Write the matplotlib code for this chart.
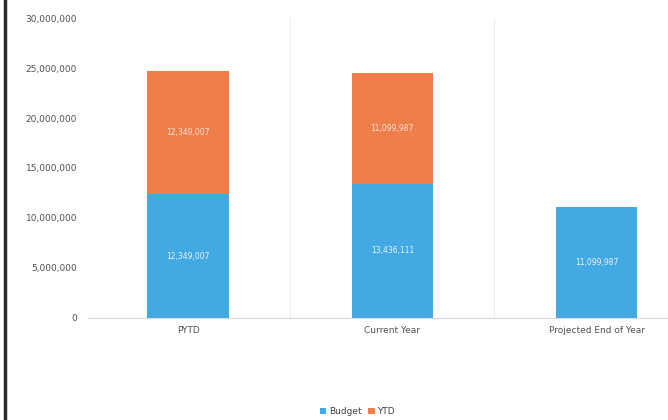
import numpy as np
import matplotlib.pyplot as plt
from matplotlib.lines import Line2D

categories = ["PYTD", "Current Year", "Projected End of Year"]
budget = [12349007, 13436111, 11099987]
ytd = [12349007, 11099987, 0]

blue = "#43A9E2"
orange = "#EE7F4B"

fig = plt.figure(figsize=(6.68, 4.2), dpi=100)
ax = fig.add_axes([0.132, 0.243, 0.868, 0.714])

x = np.arange(len(categories))
b1 = ax.bar(x, budget, width=0.4, color=blue, label="Budget")
ytd_vals = np.array(ytd)
mask = ytd_vals > 0
b2 = ax.bar(x[mask], ytd_vals[mask], width=0.4, bottom=np.array(budget)[mask],
            color=orange, label="YTD")

# value labels centred in each segment
ax.bar_label(b1, labels=[f"{v:,}" for v in budget], label_type="center",
             fontsize=5.5, color="#EAF4FB")
ax.bar_label(b2, labels=[f"{v:,}" for v in ytd_vals[mask]], label_type="center",
             fontsize=5.5, color="#FBE3D6")

for xv in [0.5, 1.5]:
    ax.axvline(xv, color="#EEEEEE", linewidth=0.8, zorder=0)

ax.set_xlim(-0.49, 2.35)
ax.set_ylim(0, 30000000)
ax.set_yticks(np.arange(0, 30000001, 5000000))
ax.yaxis.set_major_formatter(plt.FuncFormatter(lambda v, _: f"{int(v):,}"))
ax.set_xticks(x)
ax.set_xticklabels(categories)
ax.tick_params(axis="both", length=0, labelsize=6.5, colors="#505050", pad=8)
ax.tick_params(axis="x", pad=6)
for side in ["top", "right", "left"]:
    ax.spines[side].set_visible(False)
ax.spines["bottom"].set_color("#D9D9D9")
ax.spines["bottom"].set_linewidth(0.8)

fig.legend(loc="lower center", bbox_to_anchor=(0.535, -0.01), ncol=2,
           frameon=False, fontsize=6.5, handlelength=0.7, handleheight=0.7,
           handletextpad=0.3, columnspacing=0.8, labelcolor="#404040")

# dark edge along the left side
fig.add_artist(Line2D([0.007, 0.007], [0, 1], transform=fig.transFigure,
                      color="#2A2A2A", linewidth=2.5))

fig.savefig("out.png", dpi=100)
